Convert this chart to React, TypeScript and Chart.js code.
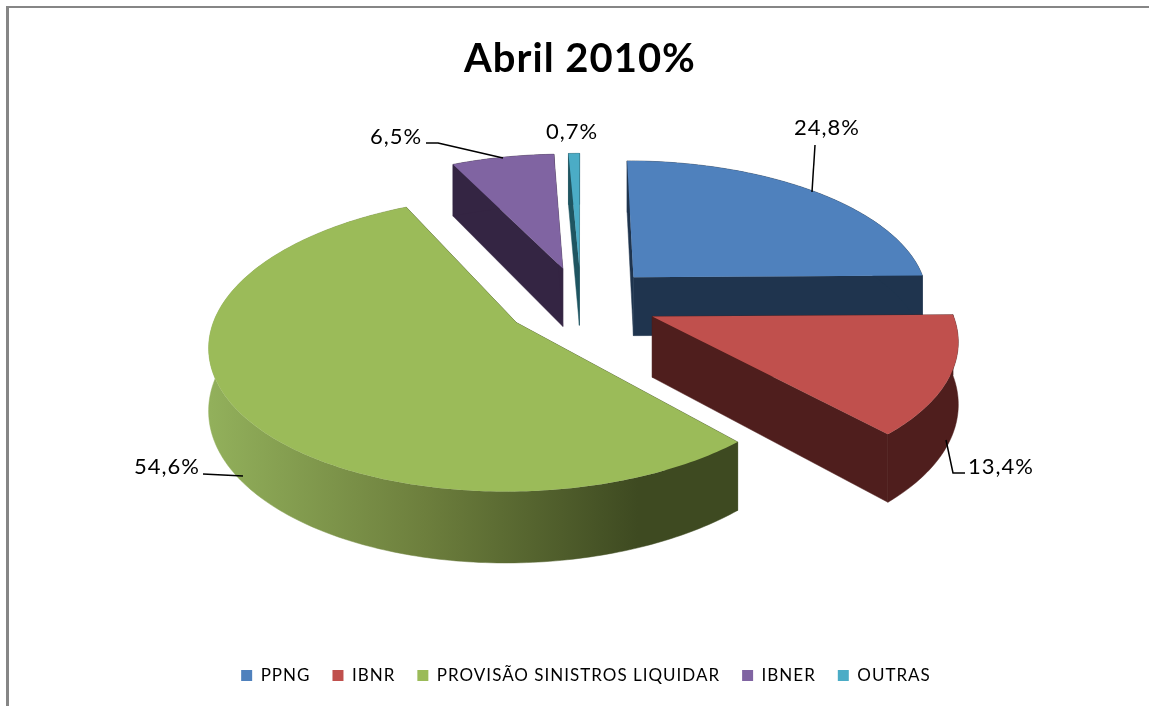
import React, { useEffect, useRef } from "react";
import { Chart, registerables } from "chart.js";

Chart.register(...registerables);

const categories = ["PPNG", "IBNR", "PROVISÃO SINISTROS LIQUIDAR", "IBNER", "OUTRAS"];
const values = [24.8, 13.4, 54.6, 6.5, 0.7];
const topColors = ["#4f81bd", "#c0504d", "#9bbb59", "#8064a2", "#4bacc6"];
const wallColors = ["#1f344e", "#4f1e1d", "#3e4a21", "#342543", "#1f5561"];
const chartTitle = "Abril 2010%";

// view of the tilted pie
const VIEW = { cx: 581, cy: 302, ax: 297, ay: 139, p: 0.14, h: 60 };
// paint order: back to front
const paintOrder = [0, 3, 4, 2, 1];
// label text position and leader line for each slice
const labelStyle = [
  { x: 827, y: 128, line: [[812, 192], [815, 145]] },
  { x: 1001, y: 467, line: [[946, 440], [953, 473], [965, 473]] },
  { x: 167, y: 467, line: [[243, 476], [203, 474]] },
  { x: 396, y: 137, line: [[503, 158], [438, 143], [426, 143]] },
  { x: 572, y: 132, line: [] as number[][] },
];

const project = (u: number, v: number, z = 0) => {
  const w = 1 - VIEW.p * v;
  return {
    x: VIEW.cx + (VIEW.ax * u) / w,
    y: VIEW.cy + (VIEW.ay * v + VIEW.h * z) / w,
  };
};

const pie3d = {
  id: "pie3d",
  beforeUpdate(chart: any) {
    chart.ctx.letterSpacing = "1px";
  },
  afterLayout(chart: any) {
    chart.legend.left += 6;
    chart.legend.right += 6;
  },
  beforeDraw(chart: any) {
    chart.ctx.letterSpacing = "1px";
  },
  beforeDatasetsDraw(chart: any) {
    const ctx = chart.ctx as CanvasRenderingContext2D;
    const arcs = chart.getDatasetMeta(0).data;
    const trace = (pts: { x: number; y: number }[]) => {
      ctx.beginPath();
      pts.forEach((p, i) => (i ? ctx.lineTo(p.x, p.y) : ctx.moveTo(p.x, p.y)));
      ctx.closePath();
    };
    ctx.save();
    ctx.lineJoin = "round";
    for (const i of paintOrder) {
      const arc = arcs[i];
      const mid = (arc.startAngle + arc.endAngle) / 2;
      const d = arc.options.offset / arc.outerRadius;
      const ox = Math.cos(mid) * d;
      const oy = Math.sin(mid) * d;
      const steps = Math.max(4, Math.ceil((arc.endAngle - arc.startAngle) * 60));
      const rim: { u: number; v: number }[] = [];
      for (let s = 0; s <= steps; s++) {
        const a = arc.startAngle + ((arc.endAngle - arc.startAngle) * s) / steps;
        rim.push({ u: ox + Math.cos(a), v: oy + Math.sin(a) });
      }
      const apex = { u: ox, v: oy };
      const wall = wallColors[i];
      const quad = (a: { u: number; v: number }, b: { u: number; v: number }) => {
        trace([project(a.u, a.v), project(b.u, b.v), project(b.u, b.v, 1), project(a.u, a.v, 1)]);
        ctx.fillStyle = wall;
        ctx.strokeStyle = wall;
        ctx.lineWidth = 0.5;
        ctx.fill();
        ctx.stroke();
      };
      quad(apex, rim[0]);
      quad(apex, rim[rim.length - 1]);

      let rimFill: string | CanvasGradient = wall;
      if (i === 2) {
        const g = ctx.createLinearGradient(210, 0, 745, 0);
        g.addColorStop(0, "#92b05b");
        g.addColorStop(0.4, "#6d7f3d");
        g.addColorStop(0.8, "#3e4a21");
        g.addColorStop(1, "#3e4a21");
        rimFill = g;
      }
      const side = [
        ...rim.map((p) => project(p.u, p.v)),
        ...rim.slice().reverse().map((p) => project(p.u, p.v, 1)),
      ];
      trace(side);
      ctx.fillStyle = rimFill;
      ctx.strokeStyle = rimFill;
      ctx.lineWidth = 0.5;
      ctx.fill();
      ctx.stroke();

      trace([project(apex.u, apex.v), ...rim.map((p) => project(p.u, p.v))]);
      ctx.fillStyle = topColors[i];
      ctx.fill();
    }
    ctx.strokeStyle = "#000";
    ctx.lineWidth = 1.5;
    ctx.fillStyle = "#000";
    ctx.font = "22px Lato";
    ctx.textAlign = "center";
    ctx.textBaseline = "middle";
    values.forEach((val, i) => {
      const l = labelStyle[i];
      if (l.line.length) {
        ctx.beginPath();
        l.line.forEach((pt, k) => (k ? ctx.lineTo(pt[0], pt[1]) : ctx.moveTo(pt[0], pt[1])));
        ctx.stroke();
      }
      ctx.fillText(val.toFixed(1).replace(".", ",") + "%", l.x, l.y);
    });
    ctx.restore();
    return false;
  },
};

export default function App() {
  const ref = useRef<HTMLCanvasElement>(null);
  useEffect(() => {
    document.body.style.margin = "0";
    const chart = new Chart(ref.current!, {
      type: "pie",
      data: {
        labels: categories,
        datasets: [{ data: values, backgroundColor: topColors, borderWidth: 0, offset: 63 }],
      },
      options: {
        responsive: false,
        animation: false,
        layout: { padding: { left: 11, top: 35, bottom: 12 } },
        plugins: {
          title: {
            display: true,
            text: chartTitle,
            color: "#000",
            font: { family: "Lato", size: 40, weight: "bold" },
            padding: { top: 0, bottom: 10 },
          },
          legend: {
            position: "bottom",
            labels: {
              color: "#000",
              font: { family: "Lato", size: 17 },
              boxWidth: 11,
              boxHeight: 11,
              padding: 22,
            },
          },
          tooltip: { enabled: false },
        },
      },
      plugins: [pie3d],
    } as any);
    return () => chart.destroy();
  }, []);
  return (
    <div style={{ position: "relative", width: 1149, height: 706, overflow: "hidden" }}>
      <canvas ref={ref} width={1149} height={706} style={{ display: "block" }} />
      <div
        style={{
          position: "absolute",
          left: 6,
          top: 6,
          right: 0,
          bottom: 0,
          borderTop: "2px solid #868686",
          borderLeft: "3px solid #868686",
          pointerEvents: "none",
        }}
      />
    </div>
  );
}
